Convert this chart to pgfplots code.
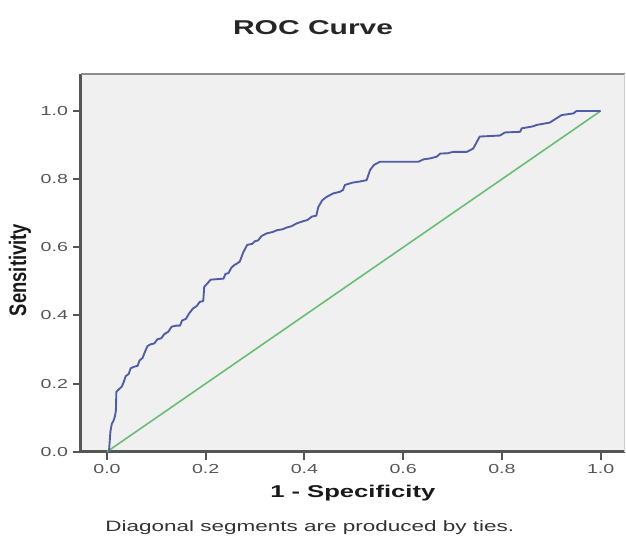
\documentclass[border=0pt]{standalone}
\usepackage{pgfplots}
\pgfplotsset{compat=1.18}
\usepackage{pgfplotstable}
\usepackage{graphicx}
\usepackage{fontspec}
\setmainfont{Liberation Sans}
% the reference is stretched sideways, so the text is too
\newfontfamily\wide[FakeStretch=1.5]{Liberation Sans}

\definecolor{plotbg}{RGB}{240,240,240}
\definecolor{roc}{RGB}{80,92,165}
\definecolor{refl}{RGB}{105,190,115}
\definecolor{axdark}{RGB}{85,85,85}
\definecolor{ticklab}{RGB}{85,85,85}

% ROC curve
\pgfplotstableread{
fpr tpr
0.004 0.000
0.007 0.060
0.010 0.083
0.013 0.090
0.016 0.103
0.018 0.120
0.019 0.176
0.024 0.183
0.030 0.191
0.034 0.205
0.038 0.222
0.044 0.228
0.048 0.245
0.056 0.250
0.062 0.252
0.066 0.268
0.072 0.275
0.076 0.290
0.082 0.310
0.088 0.315
0.096 0.318
0.102 0.330
0.110 0.333
0.116 0.345
0.124 0.352
0.131 0.367
0.140 0.370
0.148 0.370
0.152 0.385
0.160 0.390
0.166 0.405
0.174 0.420
0.182 0.428
0.188 0.440
0.195 0.442
0.197 0.484
0.204 0.495
0.210 0.505
0.236 0.508
0.240 0.522
0.246 0.524
0.252 0.540
0.258 0.548
0.263 0.552
0.269 0.558
0.276 0.585
0.284 0.607
0.294 0.610
0.300 0.618
0.306 0.620
0.313 0.633
0.324 0.641
0.336 0.645
0.344 0.650
0.356 0.653
0.364 0.658
0.374 0.662
0.384 0.670
0.396 0.676
0.406 0.680
0.415 0.690
0.424 0.693
0.428 0.718
0.436 0.738
0.445 0.748
0.458 0.758
0.472 0.763
0.478 0.768
0.482 0.783
0.498 0.790
0.512 0.793
0.526 0.797
0.533 0.827
0.541 0.842
0.553 0.851
0.631 0.851
0.641 0.858
0.655 0.861
0.668 0.866
0.675 0.875
0.690 0.876
0.701 0.880
0.729 0.880
0.742 0.890
0.755 0.925
0.796 0.928
0.806 0.937
0.837 0.939
0.840 0.949
0.863 0.955
0.870 0.959
0.897 0.966
0.911 0.979
0.921 0.988
0.945 0.993
0.951 1.000
1.000 1.000
}\roctable

\begin{document}
\begin{tikzpicture}
\path[use as bounding box] (0,0) rectangle (469.5pt,405pt);
\begin{axis}[
  at={(60.5pt,66.2pt)}, anchor=south west,
  scale only axis, width=408.2pt, height=283.3pt,
  xmin=-0.0533, xmax=1.0492, ymin=0, ymax=1.1086,
  clip=false,
  axis background/.style={fill=plotbg},
  axis x line*=bottom, axis y line*=left,
  x axis line style={axdark, line width=2pt, -},
  y axis line style={axdark, line width=2pt, -},
  xtick={0,0.2,0.4,0.6,0.8,1.0},
  ytick={0,0.2,0.4,0.6,0.8,1.0},
  tick align=outside,
  major tick length=6pt,
  tick style={axdark, line width=1.5pt},
  /pgf/number format/.cd, fixed, fixed zerofill, precision=1, assume math mode=true,
  /pgfplots/.cd,
  ticklabel style={font=\wide\fontsize{9.8}{11}\selectfont, text=ticklab},
  title={ROC Curve},
  title style={at={(axis description cs:0.427,1.1006)}, anchor=center,
    font=\wide\bfseries\fontsize{15}{17}\selectfont, text=black!85},
  xlabel={1 - Specificity},
  xlabel style={at={(axis description cs:0.5,-0.1094)}, anchor=center,
    font=\wide\bfseries\fontsize{12.8}{15}\selectfont, text=black!90},
  ylabel={\scalebox{1}[1.3]{Sensitivity}},
  ylabel style={at={(axis description cs:-0.1115,0.481)}, anchor=center,
    font=\bfseries\fontsize{13.8}{15}\selectfont, text=black!90},
]
\draw[black!45, line width=1.5pt] (rel axis cs:0,1) -- (rel axis cs:1,1);
\draw[black!20, line width=0.8pt] (rel axis cs:1,0) -- (rel axis cs:1,1);
\addplot[refl, line width=1.2pt] coordinates {(0,0) (1,1)};
\addplot[roc, line width=1.4pt, line join=round] table[x=fpr, y=tpr] {\roctable};
\node[anchor=center, font=\wide\fontsize{11.25}{13}\selectfont, text=black!80]
  at (axis description cs:0.421,-0.2019) {Diagonal segments are produced by ties.};
\end{axis}
\end{tikzpicture}
\end{document}
